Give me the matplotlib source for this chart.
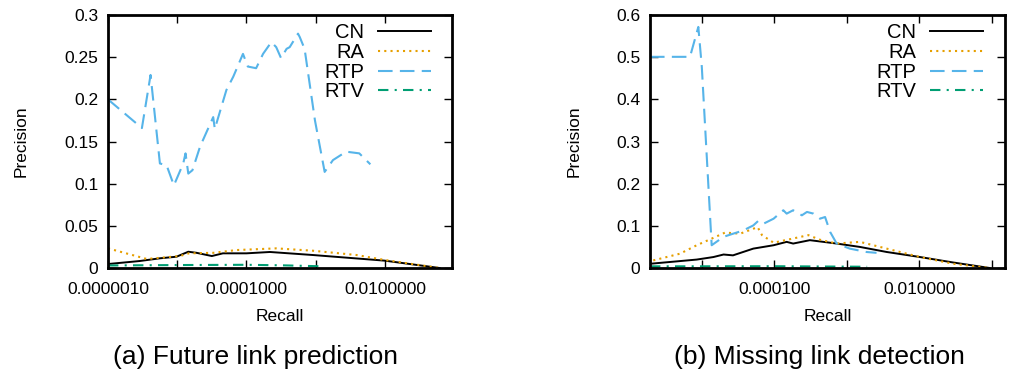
import matplotlib
matplotlib.use("Agg")
import matplotlib.pyplot as plt
import numpy as np

plt.rcParams['font.family'] = ['Liberation Sans', 'DejaVu Sans']

# ---------------------------------------------------------------------------
# data (log10 recall, precision)
# ---------------------------------------------------------------------------
# (a) future link prediction
a_cn_logr = [-6.0, -5.54, -5.25, -5.01, -4.84, -4.72, -4.5, -4.34, -4.0, -3.66, -3.04, -2.0, -1.21]
a_cn_p = [0.0047, 0.0083, 0.0115, 0.0134, 0.0193, 0.018, 0.0142, 0.0174, 0.0174, 0.019, 0.0154, 0.0087, 0.0]

a_ra_logr = [-6.0, -5.44, -4.96, -4.83, -4.48, -4.14, -3.57, -3.04, -2.41, -2.0, -1.21]
a_ra_p = [0.0233, 0.0107, 0.0142, 0.0174, 0.018, 0.0213, 0.0233, 0.0205, 0.0154, 0.0095, 0.0]

a_rtp_logr = [-6.0, -5.51, -5.385, -5.25, -5.154, -5.048, -4.913, -4.88, -4.84, -4.78, -4.67,
              -4.48, -4.457, -4.29, -4.19, -4.05, -3.98, -3.86, -3.76, -3.64, -3.57, -3.5,
              -3.42, -3.375, -3.255, -3.23, -3.16, -3.01, -2.87, -2.75, -2.56, -2.37, -2.21]
a_rtp_p = [0.200, 0.166, 0.229, 0.124, 0.122, 0.098, 0.124, 0.136, 0.112, 0.116, 0.144,
           0.179, 0.165, 0.211, 0.227, 0.254, 0.239, 0.237, 0.254, 0.268, 0.262, 0.249,
           0.260, 0.262, 0.278, 0.274, 0.260, 0.175, 0.114, 0.128, 0.138, 0.136, 0.123]

a_rtv_logr = [-6.0, -5.0, -4.0, -3.5, -2.9]
a_rtv_p = [0.003, 0.0035, 0.0038, 0.0032, 0.002]

# (b) missing link detection
b_cn_logr = [-5.715, -5.07, -4.84, -4.70, -4.57, -4.29, -4.01, -3.83, -3.74, -3.51, -3.37,
             -3.14, -2.82, -2.45, -1.99, -1.53, -1.03]
b_cn_p = [0.010, 0.020, 0.026, 0.032, 0.030, 0.046, 0.054, 0.062, 0.058, 0.066, 0.063,
          0.058, 0.050, 0.038, 0.026, 0.013, 0.0]

b_ra_logr = [-5.67, -5.30, -5.07, -4.86, -4.68, -4.47, -4.23, -4.17, -4.01, -3.74, -3.53,
             -3.37, -3.14, -2.82, -2.45, -1.99, -1.53, -1.03]
b_ra_p = [0.018, 0.034, 0.054, 0.070, 0.084, 0.0815, 0.097, 0.078, 0.060, 0.070, 0.078,
          0.067, 0.058, 0.062, 0.046, 0.026, 0.010, 0.0]

b_rtp_logr = [-5.715, -5.163, -5.048, -5.0, -4.864, -4.70, -4.566, -4.43, -4.29, -4.22, -4.15,
              -4.01, -3.876, -3.83, -3.74, -3.62, -3.55, -3.46, -3.37, -3.30, -3.23, -3.14,
              -2.96, -2.73, -2.59]
b_rtp_p = [0.501, 0.501, 0.572, 0.477, 0.054, 0.074, 0.0815, 0.089, 0.101, 0.112, 0.105,
           0.117, 0.137, 0.129, 0.137, 0.125, 0.133, 0.129, 0.117, 0.121, 0.0855, 0.058,
           0.046, 0.038, 0.036]

b_rtv_logr = [-5.715, -5.0, -4.0, -3.3, -2.72]
b_rtv_p = [0.004, 0.004, 0.0042, 0.0035, 0.003]

# ---------------------------------------------------------------------------
# styles
# ---------------------------------------------------------------------------
STYLE = {
    'CN': dict(color='black', lw=1.4, ls='-'),
    'RA': dict(color='#E69F00', lw=1.5, ls=(0, (1, 2))),
    'RTP': dict(color='#56B4E9', lw=1.5, ls=(0, (7, 3.5))),
    'RTV': dict(color='#009E73', lw=1.5, ls=(0, (5, 3, 1, 3))),
}

fig = plt.figure(figsize=(10.14, 3.73), dpi=100)
ax1 = fig.add_axes([0.1065, 0.2815, 0.3395, 0.678])
ax2 = fig.add_axes([0.641, 0.2815, 0.350, 0.678])


def draw(ax, series, xlim, ylim, yticks, ylabels, xt_major, xt_fmt, xt_all, ylpad):
    for name, (lr, p) in series.items():
        ax.plot(10 ** np.array(lr), p, label=name, **STYLE[name])
    ax.set_xscale('log')
    ax.set_xlim(*xlim)
    ax.set_ylim(*ylim)
    ax.set_yticks(yticks)
    ax.set_yticklabels(ylabels)
    ax.set_xticks(xt_all)
    ax.set_xticklabels([xt_fmt % t if t in xt_major else '' for t in xt_all])
    ax.minorticks_off()
    ax.tick_params(direction='in', length=6, width=1, top=True, right=True,
                   labelsize=12.5)
    ax.tick_params(axis='x', pad=10)
    ax.tick_params(axis='y', pad=7)
    for s in ax.spines.values():
        s.set_linewidth(2)
    ax.set_xlabel('Recall', fontsize=12.5, labelpad=9)
    ax.set_ylabel('Precision', fontsize=12.5, labelpad=ylpad)
    ax.legend(loc='upper right', bbox_to_anchor=(0.937, 0.967), frameon=False,
              markerfirst=False, fontsize=14.5, handlelength=2.6,
              labelspacing=0.03, borderpad=0, borderaxespad=0,
              handletextpad=0.7)


draw(ax1,
     {'CN': (a_cn_logr, a_cn_p), 'RA': (a_ra_logr, a_ra_p),
      'RTP': (a_rtp_logr, a_rtp_p), 'RTV': (a_rtv_logr, a_rtv_p)},
     (1e-6, 0.094), (0, 0.3),
     [0, 0.05, 0.1, 0.15, 0.2, 0.25, 0.3],
     ['0', '0.05', '0.1', '0.15', '0.2', '0.25', '0.3'],
     [1e-6, 1e-4, 1e-2], '%.7f', [1e-6, 1e-5, 1e-4, 1e-3, 1e-2], 26)

draw(ax2,
     {'CN': (b_cn_logr, b_cn_p), 'RA': (b_ra_logr, b_ra_p),
      'RTP': (b_rtp_logr, b_rtp_p), 'RTV': (b_rtv_logr, b_rtv_p)},
     (10 ** -5.715, 10 ** -0.82), (0, 0.6),
     [0, 0.1, 0.2, 0.3, 0.4, 0.5, 0.6],
     ['0', '0.1', '0.2', '0.3', '0.4', '0.5', '0.6'],
     [1e-4, 1e-2], '%.6f', [1e-5, 1e-4, 1e-3, 1e-2, 1e-1], 25)

fig.text(0.252, 0.012, '(a) Future link prediction', ha='center', va='bottom',
         fontsize=19)
fig.text(0.808, 0.012, '(b) Missing link detection', ha='center', va='bottom',
         fontsize=19)

fig.savefig('out.png', dpi=100)
